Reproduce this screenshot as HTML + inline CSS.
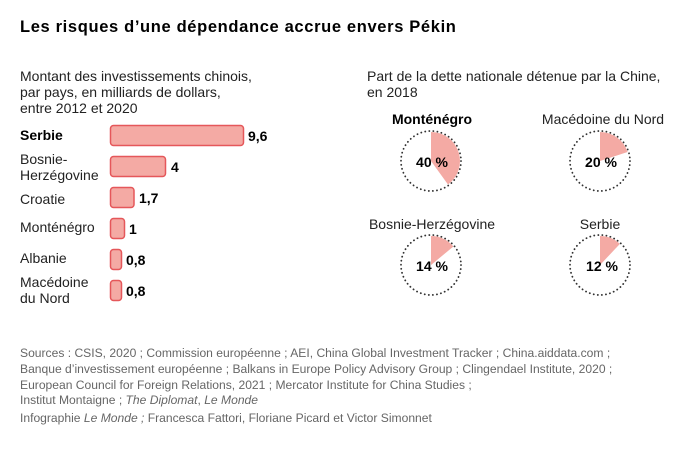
<!DOCTYPE html>
<html><head><meta charset="utf-8"><style>
body{margin:0;background:#fff;}
svg{display:block;font-family:"Liberation Sans",sans-serif;}
</style></head><body>
<svg width="700" height="449" viewBox="0 0 700 449">
<text x="20" y="32" font-size="16.5" font-weight="900" fill="#000" style="letter-spacing:0.65px">Les risques d’une dépendance accrue envers Pékin</text>
<g font-size="14" fill="#222">
<text x="20" y="81">Montant des investissements chinois,</text>
<text x="20" y="97">par pays, en milliards de dollars,</text>
<text x="20" y="113">entre 2012 et 2020</text>
<text x="367" y="81">Part de la dette nationale détenue par la Chine,</text>
<text x="367" y="97">en 2018</text>
</g>
<g font-size="14" fill="#222">
<text x="20" y="140" font-weight="bold" fill="#000">Serbie</text>
<text x="20" y="164">Bosnie-</text>
<text x="20" y="180">Herzégovine</text>
<text x="20" y="204">Croatie</text>
<text x="20" y="232">Monténégro</text>
<text x="20" y="263">Albanie</text>
<text x="20" y="287">Macédoine</text>
<text x="20" y="303">du Nord</text>
</g>
<g fill="#f4aaa4" stroke="#e5575a" stroke-width="1.5">
<rect x="110.5" y="125.5" width="133" height="20" rx="3"/>
<rect x="110.5" y="156.5" width="55" height="20" rx="3"/>
<rect x="110.5" y="187.5" width="23.5" height="20" rx="3"/>
<rect x="110.5" y="218.5" width="14" height="20" rx="3"/>
<rect x="110.5" y="249.5" width="11" height="20" rx="3"/>
<rect x="110.5" y="280.5" width="11" height="20" rx="3"/>
</g>
<g font-size="14" font-weight="900" fill="#000">
<text x="248" y="141">9,6</text>
<text x="171" y="172">4</text>
<text x="139" y="203">1,7</text>
<text x="129" y="234">1</text>
<text x="126" y="265">0,8</text>
<text x="126" y="296">0,8</text>
</g>
<g font-size="14" fill="#222" text-anchor="middle">
<text x="432" y="124" font-weight="bold" fill="#000">Monténégro</text>
<text x="603" y="124">Macédoine du Nord</text>
<text x="432" y="229">Bosnie-Herzégovine</text>
<text x="600" y="229">Serbie</text>
</g>
<g fill="none" stroke="#333" stroke-width="1.8" stroke-dasharray="0.1 4" stroke-linecap="round">
<circle cx="431" cy="161" r="30"/>
<circle cx="600" cy="161" r="30"/>
<circle cx="431" cy="265" r="30"/>
<circle cx="600" cy="265" r="30"/>
</g>
<g fill="#f4aaa4">
<path d="M431,161 L431,132 A29,29 0 0 1 448,184.5 Z"/>
<path d="M600,161 L600,132 A29,29 0 0 1 627.6,152 Z"/>
<path d="M431,265 L431,236 A29,29 0 0 1 453.4,246.5 Z"/>
<path d="M600,265 L600,236 A29,29 0 0 1 619.9,243.9 Z"/>
</g>
<g font-size="14" font-weight="900" fill="#000" text-anchor="middle">
<text x="432" y="167">40 %</text>
<text x="601" y="167">20 %</text>
<text x="432" y="271">14 %</text>
<text x="602" y="271">12 %</text>
</g>
<g font-size="12.1" fill="#666">
<text x="20" y="357">Sources : CSIS, 2020 ; Commission européenne ; AEI, China Global Investment Tracker ; China.aiddata.com ;</text>
<text x="20" y="373">Banque d’investissement européenne ; Balkans in Europe Policy Advisory Group ; Clingendael Institute, 2020 ;</text>
<text x="20" y="389">European Council for Foreign Relations, 2021 ; Mercator Institute for China Studies ;</text>
<text x="20" y="404">Institut Montaigne ; <tspan font-style="italic">The Diplomat</tspan>, <tspan font-style="italic">Le Monde</tspan></text>
<text x="20" y="422">Infographie <tspan font-style="italic">Le Monde ;</tspan> Francesca Fattori, Floriane Picard et Victor Simonnet</text>
</g>
</svg>
</body></html>
